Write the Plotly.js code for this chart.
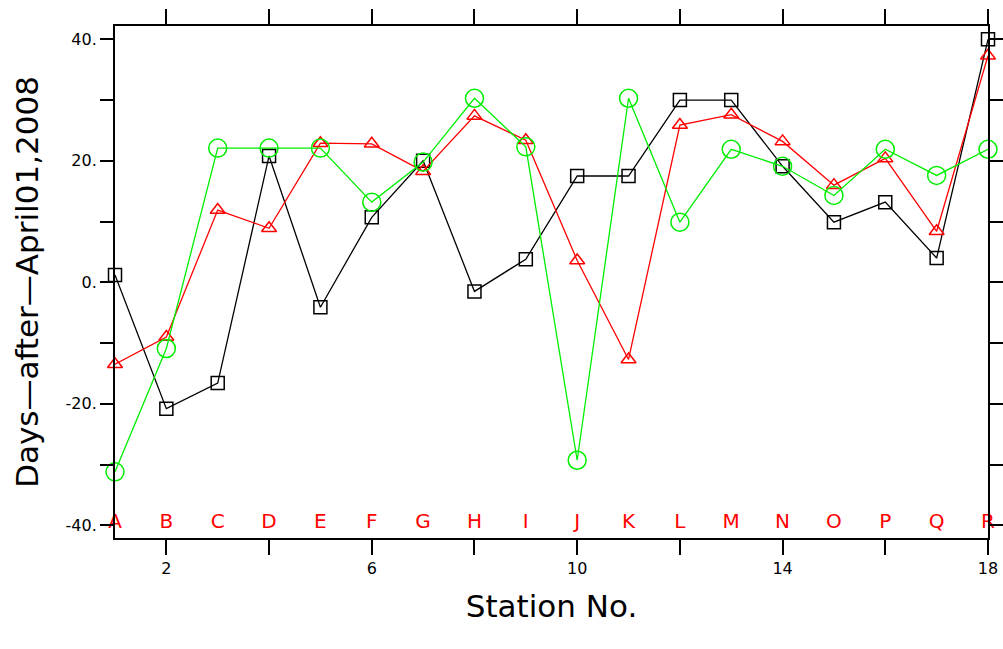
<!DOCTYPE html>
<html>
<head>
<meta charset="utf-8">
<script src="https://cdn.plot.ly/plotly-3.0.1.min.js"></script>
<style>html,body{margin:0;padding:0;background:#fff;}#chart{width:1003px;height:649px;}</style>
</head>
<body>
<div id="chart"></div>
<script>
const stations = [1,2,3,4,5,6,7,8,9,10,11,12,13,14,15,16,17,18];
const stationLetters = ["A","B","C","D","E","F","G","H","I","J","K","L","M","N","O","P","Q","R"];
const blackSeries = [1.2,-20.8,-16.6,20.8,-4.1,10.7,20.0,-1.5,3.8,17.5,17.5,30.0,30.0,19.1,9.9,13.2,4.0,40.0];
const redSeries   = [-13.5,-9.0,11.9,8.9,22.9,22.8,18.3,27.4,23.4,3.6,-12.7,25.9,27.6,23.2,16.0,20.4,8.4,37.3];
const greenSeries = [-31.2,-10.9,22.1,22.1,22.1,13.2,19.8,30.3,22.3,-29.3,30.3,9.9,21.9,19.1,14.3,21.9,17.6,21.9];
const letterLevel = -39.6;
const xTickVals = [2,4,6,8,10,12,14,16,18];
const xTickText = ["2","","6","","10","","14","","18"];
const yTickVals = [-40,-30,-20,-10,0,10,20,30,40];
const yTickText = ["-40.","","-20.","","0.","","20.","","40."];

const font = "DejaVu Sans, sans-serif";
const traces = [
  {x: stations, y: blackSeries, mode: "lines+markers", line:{color:"#000000", width:1.3},
   marker:{symbol:"square-open", size:13, color:"#000000", line:{width:1.5}}, cliponaxis:false},
  {x: stations, y: redSeries, mode: "lines+markers", line:{color:"#ff0000", width:1.3},
   marker:{symbol:"triangle-up-open", size:13, color:"#ff0000", line:{width:1.5}}, cliponaxis:false},
  {x: stations, y: greenSeries, mode: "lines+markers", line:{color:"#00ee00", width:1.3},
   marker:{symbol:"circle-open", size:18, color:"#00ee00", line:{width:1.5}}, cliponaxis:false},
  {x: stations, y: stations.map(() => letterLevel), mode: "text", text: stationLetters,
   textposition: "middle center", textfont:{family:font, size:20, color:"#ff0000"}, cliponaxis:false, hoverinfo:"skip"}
];

const layout = {
  width: 1003, height: 649,
  margin: {l:115, r:15, t:26, b:111},
  paper_bgcolor: "#ffffff", plot_bgcolor: "#ffffff",
  showlegend: false,
  xaxis: {
    range: [1, 18], showgrid: false, zeroline: false,
    showline: true, linecolor: "#000", linewidth: 2, mirror: "ticks",
    ticks: "outside", ticklen: 15, tickwidth: 2, tickcolor: "#000",
    tickmode: "array", tickvals: xTickVals, ticktext: xTickText,
    tickfont: {family: font, size: 16, color: "#000"},
    title: {text: "Station No.", font: {family: font, size: 31, color: "#000"}, standoff: 18},
    automargin: false
  },
  yaxis: {
    range: [-42.1, 42.2], showgrid: false, zeroline: false,
    showline: true, linecolor: "#000", linewidth: 2, mirror: "ticks",
    ticks: "outside", ticklen: 13, tickwidth: 2, tickcolor: "#000",
    tickmode: "array", tickvals: yTickVals, ticktext: yTickText,
    tickfont: {family: font, size: 16, color: "#000"},
    title: {text: "Days\u2014after\u2014April01,2008", font: {family: font, size: 31, color: "#000"}, standoff: 18},
    automargin: false
  }
};
Plotly.newPlot("chart", traces, layout, {staticPlot: true, displayModeBar: false});
</script>
</body>
</html>
